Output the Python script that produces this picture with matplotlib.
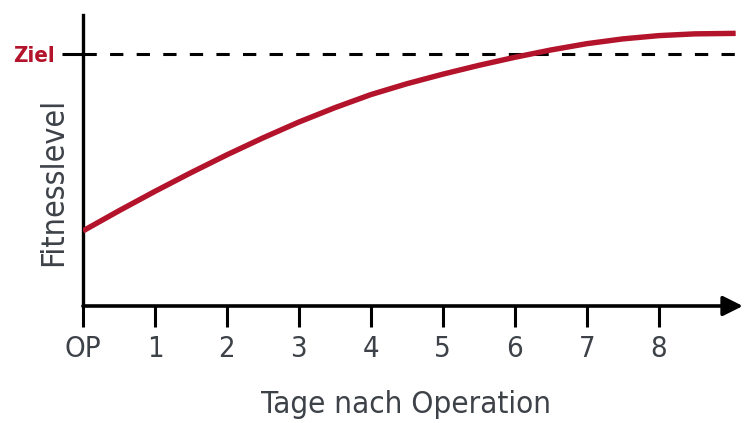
import matplotlib.pyplot as plt

# Tage nach Operation und Fitnesslevel (in % vom Ziel)
tage = [0, 0.5, 1, 1.5, 2, 2.5, 3, 3.5, 4, 4.5, 5, 5.5, 6, 6.5, 7, 7.5, 8, 8.5, 9.07]
fitness = [29.8, 37.8, 45.5, 52.9, 60.0, 66.7, 73.0, 78.7, 83.9, 88.2, 92.0,
           95.5, 98.7, 101.6, 104.1, 106.0, 107.3, 108.0, 108.2]
ziel = 100
tick_labels = ['OP', '1', '2', '3', '4', '5', '6', '7', '8']

red = '#b3142b'
grey = '#3d4248'
plt.rcParams['font.family'] = ['DejaVu Sans']
plt.rcParams['font.stretch'] = 'condensed'

fig = plt.figure(figsize=(7.49, 4.23), dpi=100)
ax = fig.add_axes([0.1108, 0.2766, 0.881, 0.688])

ax.plot(tage, fitness, color=red, lw=3.9, solid_capstyle='butt', zorder=3)
ax.plot([0, 9.07], [ziel, ziel], color='black', lw=2.2, ls=(0, (4.35, 4.35)), zorder=2)

ax.set_xlim(0, 9.17)
ax.set_ylim(0, 115.5)

for s in ['top', 'right', 'bottom']:
    ax.spines[s].set_visible(False)
ax.spines['left'].set_linewidth(2.4)
ax.spines['left'].set_capstyle('projecting')

# x-Achse mit Pfeil
ax.annotate('', xy=(9.17, 0), xytext=(0, 0),
            arrowprops=dict(arrowstyle='-|>', lw=2.6, color='black',
                            mutation_scale=30, shrinkA=0, shrinkB=0),
            annotation_clip=False)

ax.set_xticks(range(9))
ax.set_xticklabels(tick_labels)
ax.tick_params(axis='x', length=15, width=2.2, pad=6, labelsize=21, labelcolor=grey)

ax.set_yticks([ziel])
ax.set_yticklabels(['Ziel'])
ax.tick_params(axis='y', length=15, width=2.2, pad=5, labelsize=16, labelcolor=red)
for t in ax.get_yticklabels():
    t.set_fontweight('bold')

ax.set_xlabel('Tage nach Operation', fontsize=22.5, color=grey)
ax.xaxis.set_label_coords(0.49, -0.29)
ax.set_ylabel('Fitnesslevel', fontsize=23, color=grey)
ax.yaxis.set_label_coords(-0.021, 0.426)

fig.savefig('out.png', dpi=100)
